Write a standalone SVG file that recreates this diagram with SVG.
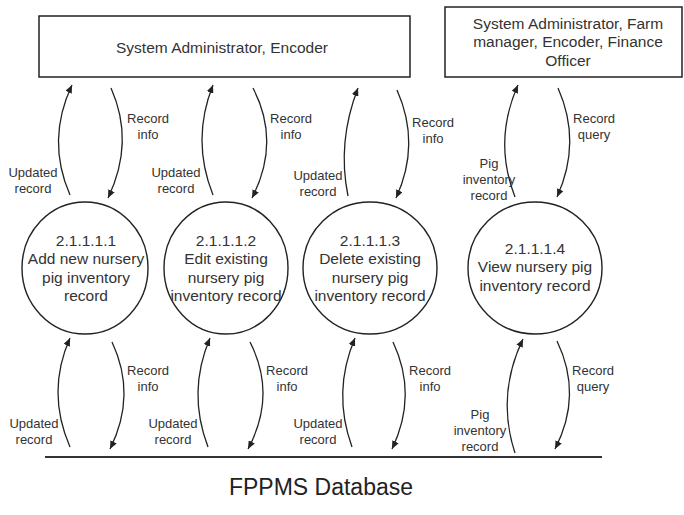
<svg xmlns="http://www.w3.org/2000/svg" width="684" height="515" viewBox="0 0 684 515">
<defs>
<marker id="ah" markerUnits="userSpaceOnUse" markerWidth="9" markerHeight="7" refX="8" refY="3.5" orient="auto">
<path d="M0,0 L8,3.5 L0,7 z" fill="#222"/>
</marker>
<style>
.box{fill:#fff;stroke:#222;stroke-width:1.5}
.proc{fill:#fff;stroke:#222;stroke-width:1.4}
.t{font-family:"Liberation Sans",Arial,sans-serif;font-size:15.5px;fill:#333;text-anchor:middle}
.l{font-family:"Liberation Sans",Arial,sans-serif;font-size:13px;fill:#333;text-anchor:middle}
.db{font-family:"Liberation Sans",Arial,sans-serif;font-size:23px;fill:#222;text-anchor:middle}
.f{fill:none;stroke:#222;stroke-width:1.3;marker-end:url(#ah)}
</style>
</defs>
<rect width="684" height="515" fill="#fff"/>

<g id="ext1">
<rect class="box" x="39" y="16" width="371" height="61"/>
<text class="t" x="222" y="52.5">System Administrator, Encoder</text>
</g>
<g id="ext2">
<rect class="box" x="445" y="7" width="237" height="70"/>
<text class="t" x="568" y="28.5">System Administrator, Farm</text>
<text class="t" x="568" y="47">manager, Encoder, Finance</text>
<text class="t" x="568" y="65.5">Officer</text>
</g>

<g id="p1">
<ellipse class="proc" cx="85" cy="268" rx="63" ry="66"/>
<text class="t" x="86" y="245.5">2.1.1.1.1</text>
<text class="t" x="86" y="264">Add new nursery</text>
<text class="t" x="86" y="282.5">pig inventory</text>
<text class="t" x="86" y="301">record</text>
</g>
<g id="p2">
<ellipse class="proc" cx="226" cy="268" rx="62" ry="66"/>
<text class="t" x="226" y="245.5">2.1.1.1.2</text>
<text class="t" x="226" y="264">Edit existing</text>
<text class="t" x="226" y="282.5">nursery pig</text>
<text class="t" x="226" y="301">inventory record</text>
</g>
<g id="p3">
<ellipse class="proc" cx="370" cy="268" rx="67" ry="66"/>
<text class="t" x="370" y="245.5">2.1.1.1.3</text>
<text class="t" x="370" y="264">Delete existing</text>
<text class="t" x="370" y="282.5">nursery pig</text>
<text class="t" x="370" y="301">inventory record</text>
</g>
<g id="p4">
<ellipse class="proc" cx="535" cy="268" rx="67" ry="66"/>
<text class="t" x="535" y="253.5">2.1.1.1.4</text>
<text class="t" x="535" y="272">View nursery pig</text>
<text class="t" x="535" y="290.5">inventory record</text>
</g>

<g id="store">
<line x1="45" y1="457" x2="602" y2="457" stroke="#333" stroke-width="2"/>
<text class="db" x="321" y="495">FPPMS Database</text>
</g>

<g id="connectors">
<!-- top -->
<path class="f" d="M70,195 Q46,140 72,85"/>
<path class="f" d="M111,88 Q135,142 108,198"/>
<path class="f" d="M213,195 Q191,140 213,85"/>
<path class="f" d="M253,88 Q281,142 252,198"/>
<path class="f" d="M348,196 Q337,142 358,88"/>
<path class="f" d="M397,90 Q421,144 396,198"/>
<path class="f" d="M515,197 Q493,141 518,85"/>
<path class="f" d="M558,88 Q582,142 557,197"/>
<!-- bottom -->
<path class="f" d="M70,447 Q46,392 70,338"/>
<path class="f" d="M112,342 Q137,395 110,449"/>
<path class="f" d="M208,447 Q187,392 210,338"/>
<path class="f" d="M250,342 Q277,395 248,449"/>
<path class="f" d="M352,447 Q332,392 355,338"/>
<path class="f" d="M393,342 Q418,395 392,449"/>
<path class="f" d="M515,453 Q496,395 523,339"/>
<path class="f" d="M557,341 Q583,395 555,449"/>
</g>

<g id="labels">
<text class="l" x="148" y="122.5">Record</text><text class="l" x="148" y="139">info</text>
<text class="l" x="33" y="177">Updated</text><text class="l" x="33" y="192.5">record</text>
<text class="l" x="291" y="122.5">Record</text><text class="l" x="291" y="139">info</text>
<text class="l" x="176" y="177">Updated</text><text class="l" x="176" y="192.5">record</text>
<text class="l" x="433" y="126.5">Record</text><text class="l" x="433" y="143">info</text>
<text class="l" x="318" y="179.5">Updated</text><text class="l" x="318" y="196">record</text>
<text class="l" x="594" y="122.5">Record</text><text class="l" x="594" y="138.5">query</text>
<text class="l" x="489" y="167.5">Pig</text><text class="l" x="489" y="183.5">inventory</text><text class="l" x="489" y="199.5">record</text>

<text class="l" x="148" y="374.5">Record</text><text class="l" x="148" y="391">info</text>
<text class="l" x="34" y="427.5">Updated</text><text class="l" x="34" y="443.5">record</text>
<text class="l" x="287" y="374.5">Record</text><text class="l" x="287" y="391">info</text>
<text class="l" x="173" y="427.5">Updated</text><text class="l" x="173" y="443.5">record</text>
<text class="l" x="430" y="374.5">Record</text><text class="l" x="430" y="391">info</text>
<text class="l" x="318" y="427.5">Updated</text><text class="l" x="318" y="443.5">record</text>
<text class="l" x="593" y="374.5">Record</text><text class="l" x="593" y="390.5">query</text>
<text class="l" x="480" y="419">Pig</text><text class="l" x="480" y="435">inventory</text><text class="l" x="480" y="451">record</text>
</g>
</svg>
